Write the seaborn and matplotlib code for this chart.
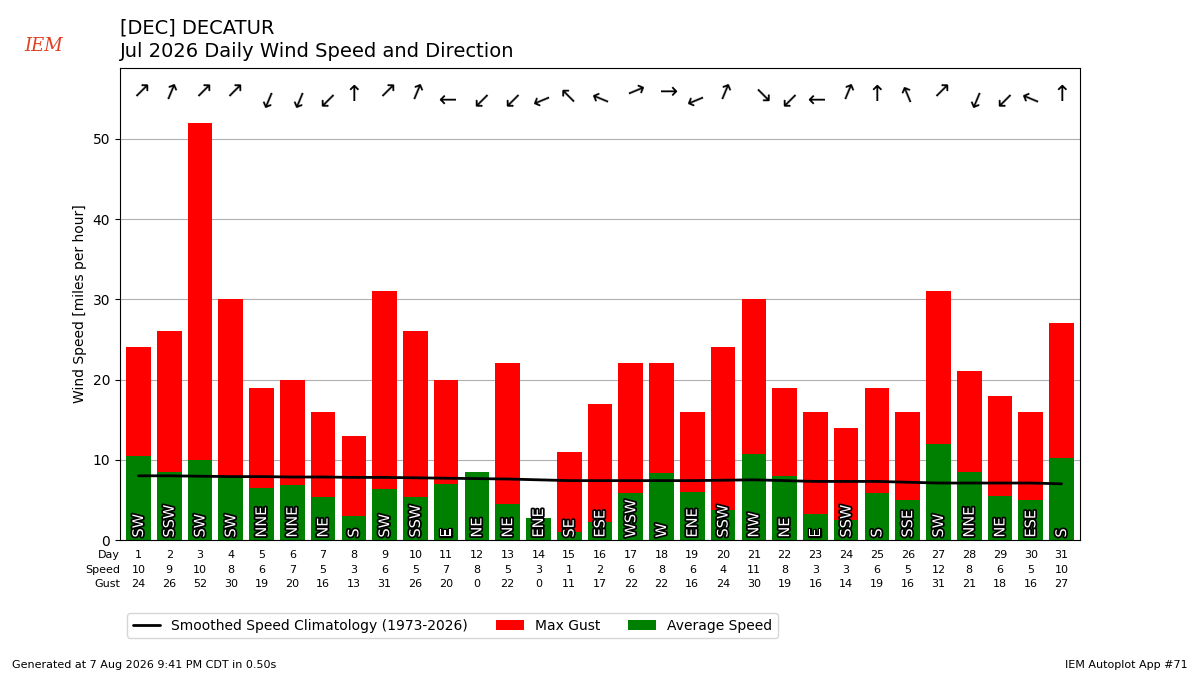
import numpy as np
import pandas as pd
import seaborn as sns
import matplotlib.pyplot as plt
import matplotlib.patheffects as pe

days = list(range(1, 32))
avg_speed = [10.5, 8.5, 10.0, 8.0, 6.5, 6.8, 5.3, 3.0, 6.3, 5.3, 7.0, 8.5, 4.5, 2.8, 1.0, 2.3,
             5.8, 8.3, 6.0, 3.8, 10.7, 8.0, 3.3, 2.5, 5.8, 5.0, 12.0, 8.5, 5.5, 5.0, 10.2]
speed_lbl = [10, 9, 10, 8, 6, 7, 5, 3, 6, 5, 7, 8, 5, 3, 1, 2, 6, 8, 6, 4, 11, 8, 3, 3, 6, 5, 12, 8, 6, 5, 10]
gust = [24, 26, 52, 30, 19, 20, 16, 13, 31, 26, 20, 0, 22, 0, 11, 17, 22, 22, 16, 24, 30, 19, 16, 14,
        19, 16, 31, 21, 18, 16, 27]
direction = ["SW", "SSW", "SW", "SW", "NNE", "NNE", "NE", "S", "SW", "SSW", "E", "NE", "NE", "ENE", "SE",
             "ESE", "WSW", "W", "ENE", "SSW", "NW", "NE", "E", "SSW", "S", "SSE", "SW", "NNE", "NE", "ESE", "S"]
clim = [8.0, 8.0, 7.95, 7.9, 7.9, 7.85, 7.85, 7.8, 7.8, 7.75, 7.7, 7.65, 7.6, 7.5, 7.4, 7.4,
        7.4, 7.4, 7.4, 7.45, 7.5, 7.4, 7.3, 7.3, 7.3, 7.2, 7.1, 7.1, 7.1, 7.1, 7.0]

compass = ["N", "NNE", "NE", "ENE", "E", "ESE", "SE", "SSE", "S", "SSW", "SW", "WSW", "W", "WNW", "NW", "NNW"]

sns.set_style("white")
plt.rcParams['font.family'] = ['DejaVu Sans']
plt.rcParams.update({"text.color": "black", "axes.labelcolor": "black",
                     "ytick.color": "black", "ytick.left": True})

fig = plt.figure(figsize=(12, 6.75), dpi=100)
ax = fig.add_axes([0.1, 0.2, 0.8, 0.699])

df = pd.DataFrame({"day": days, "gust": gust, "avg": avg_speed})
ax.bar(df["day"], df["gust"], width=0.8, color="red", linewidth=0, label="Max Gust", zorder=2)
ax.bar(df["day"], df["avg"], width=0.8, color="green", linewidth=0, label="Average Speed", zorder=2)
sns.lineplot(x=days, y=clim, ax=ax, color="black", lw=2,
             label="Smoothed Speed Climatology (1973-2026)", zorder=3)

for d, dr in zip(days, direction):
    ax.text(d, 0.3, dr, rotation=90, ha="center", va="bottom", color="white", fontsize=10.5,
            path_effects=[pe.withStroke(linewidth=2.5, foreground="black")], zorder=4)
    deg = compass.index(dr) * 22.5
    ax.text(d, 55.5, "\u2191", rotation=-(deg + 180), ha="center",
            va="center", fontsize=16, zorder=4)

ax.set_xlim(0.4, 31.6)
ax.set_ylim(0, 58.8)
ax.set_xticks([])
ax.set_yticks([0, 10, 20, 30, 40, 50])
ax.grid(axis="y", color="#b0b0b0", zorder=0)
ax.set_ylabel("Wind Speed [miles per hour]")
for s in ax.spines.values():
    s.set_color("black")

for i, lab in enumerate(["Day", "Speed", "Gust"]):
    yy = -0.022 - i * 0.03
    ax.text(0.0, yy, lab, transform=ax.transAxes, ha="right", va="top", fontsize=8)
    vals = [days, speed_lbl, gust][i]
    for d, v in zip(days, vals):
        ax.text(d, yy, str(v), transform=ax.get_xaxis_transform(), ha="center", va="top", fontsize=8)

h, l = ax.get_legend_handles_labels()
order = [l.index("Smoothed Speed Climatology (1973-2026)"), l.index("Max Gust"), l.index("Average Speed")]
ax.legend([h[o] for o in order], [l[o] for o in order], ncol=3, loc="upper left",
          bbox_to_anchor=(0.0, -0.14), fontsize=10)

fig.text(0.1, 0.95, "[DEC] DECATUR", fontsize=14)
fig.text(0.1, 0.915, "Jul 2026 Daily Wind Speed and Direction", fontsize=14)
fig.text(0.02, 0.925, "IEM", fontsize=13, color="#e04020", style="italic", family="serif")
fig.text(0.01, 0.01, "Generated at 7 Aug 2026 9:41 PM CDT in 0.50s", fontsize=8)
fig.text(0.99, 0.01, "IEM Autoplot App #71", fontsize=8, ha="right")

fig.savefig("out.png")
